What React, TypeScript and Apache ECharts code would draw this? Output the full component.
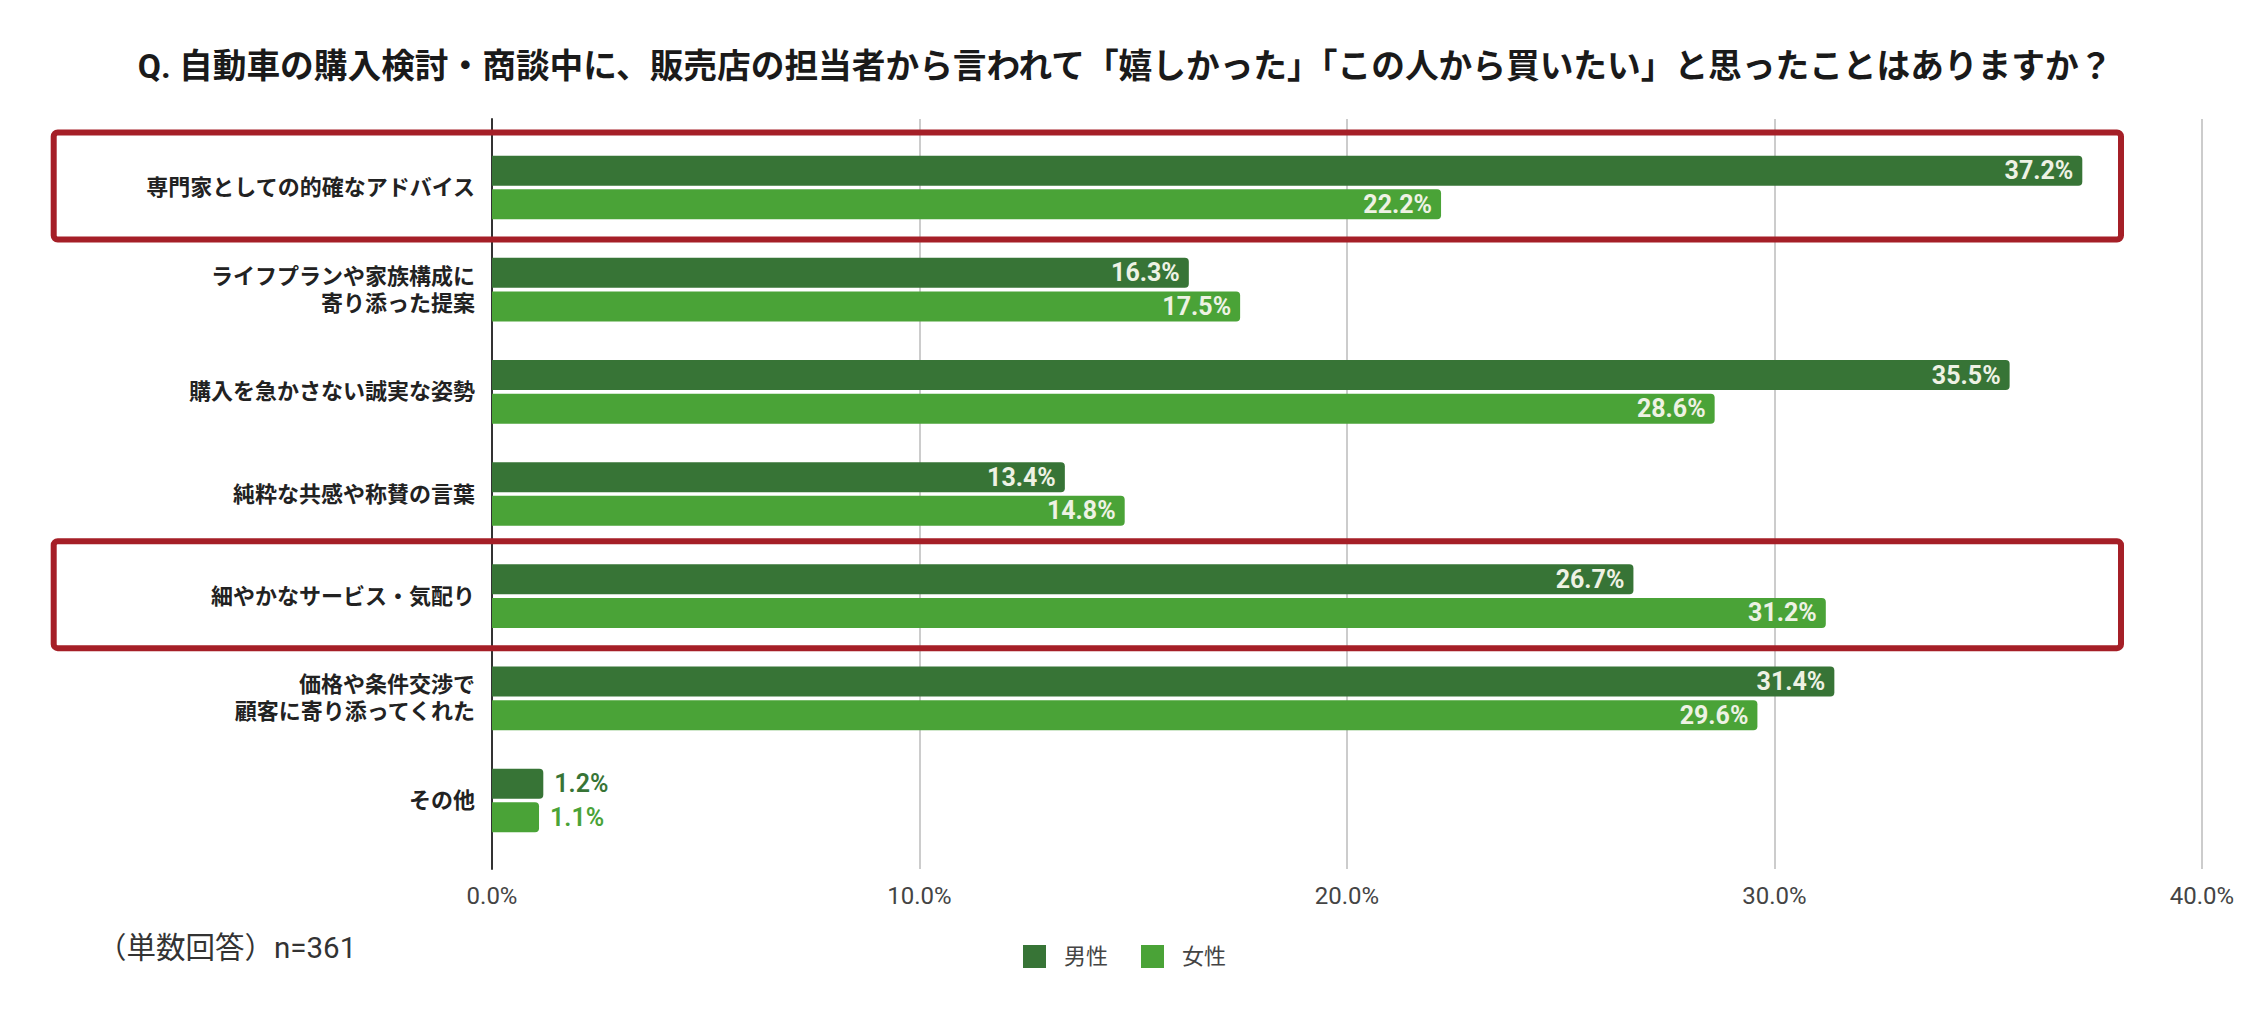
import React, { useEffect, useRef } from "react";
import * as echarts from "echarts";

const categories = [
  "専門家としての的確なアドバイス",
  "ライフプランや家族構成に\n寄り添った提案",
  "購入を急かさない誠実な姿勢",
  "純粋な共感や称賛の言葉",
  "細やかなサービス・気配り",
  "価格や条件交渉で\n顧客に寄り添ってくれた",
  "その他",
];
const maleValues = [37.2, 16.3, 35.5, 13.4, 26.7, 31.4, 1.2];
const femaleValues = [22.2, 17.5, 28.6, 14.8, 31.2, 29.6, 1.1];
const seriesNames = ["男性", "女性"];
const highlighted = [0, 4];
const xTicks = { min: 0, max: 40, interval: 10 };

const TITLE =
  "Q. 自動車の購入検討・商談中に、販売店の担当者から言われて「嬉しかった」「この人から買いたい」と思ったことはありますか？";
const NOTE = "（単数回答）n=361";

const DARK = "#377436";
const LIGHT = "#4aa337";
const FONT = "Roboto, 'Noto Sans CJK JP', sans-serif";

function buildData(values: number[], color: string) {
  return values.map((v) =>
    v < 5
      ? {
          value: v,
          label: { position: "right", color, distance: 11, fontWeight: 600 },
        }
      : v
  );
}

export default function App() {
  const ref = useRef<HTMLDivElement>(null);
  useEffect(() => {
    document.body.style.margin = "0";
    if (!ref.current) return;
    const chart = echarts.init(ref.current, undefined, { renderer: "svg" });
    const barLabel = {
      show: true,
      position: "insideRight",
      distance: 9,
      color: "#eef2e4",
      fontSize: 25,
      fontWeight: "bold",
      fontFamily: FONT,
      formatter: (p: any) => Number(p.value).toFixed(1) + "%",
    };
    const option: any = {
      animation: false,
      backgroundColor: "#ffffff",
      title: [
        {
          text: TITLE,
          left: "center",
          top: 50,
          padding: 0,
          textStyle: {
            fontSize: 33.7,
            fontWeight: "bold",
            color: "#1a1a1a",
            fontFamily: FONT,
          },
        },
        {
          text: NOTE,
          left: 97,
          top: 933,
          padding: 0,
          textStyle: {
            fontSize: 29.5,
            fontWeight: "normal",
            color: "#333",
            fontFamily: FONT,
          },
        },
      ],
      legend: {
        data: seriesNames,
        left: 1023,
        top: 945,
        icon: "rect",
        itemWidth: 23,
        itemHeight: 23,
        itemGap: 33,
        padding: 0,
        textStyle: {
          fontSize: 22,
          color: "#444",
          fontFamily: FONT,
          padding: [0, 0, 0, 13],
        },
      },
      grid: [
        { left: 492, right: 48, top: 136.4, bottom: 161.4 },
        { left: 492, right: 48, top: 119, bottom: 144 },
      ],
      xAxis: [
        { gridIndex: 0, type: "value", ...xTicks, show: false },
        {
          gridIndex: 1,
          type: "value",
          ...xTicks,
          axisLine: { show: false },
          axisTick: { show: false },
          axisLabel: {
            show: true,
            fontSize: 24,
            color: "#444",
            fontFamily: FONT,
            margin: 15,
            formatter: (v: number) => v.toFixed(1) + "%",
          },
          splitLine: { show: true, lineStyle: { color: "#cccccc", width: 2 } },
        },
      ],
      yAxis: [
        {
          gridIndex: 0,
          type: "category",
          inverse: true,
          data: categories,
          axisLine: { show: false },
          axisTick: { show: false },
          axisLabel: {
            fontSize: 22,
            fontWeight: "bold",
            color: "#222",
            fontFamily: FONT,
            margin: 17,
            lineHeight: 27,
          },
        },
        {
          gridIndex: 1,
          type: "value",
          axisLine: { show: true, lineStyle: { color: "#333", width: 2 } },
          axisLabel: { show: false },
          axisTick: { show: false },
          splitLine: { show: false },
        },
      ],
      series: [
        {
          name: seriesNames[0],
          type: "bar",
          xAxisIndex: 0,
          yAxisIndex: 0,
          data: buildData(maleValues, DARK),
          barWidth: 30,
          barGap: "12%",
          itemStyle: { color: DARK, borderRadius: [0, 4, 4, 0] },
          label: barLabel,
        },
        {
          name: seriesNames[1],
          type: "bar",
          xAxisIndex: 0,
          yAxisIndex: 0,
          data: buildData(femaleValues, LIGHT),
          barWidth: 30,
          barGap: "12%",
          itemStyle: { color: LIGHT, borderRadius: [0, 4, 4, 0] },
          label: barLabel,
        },
      ],
    };
    chart.setOption(option);

    const boxes = highlighted.map((i) => {
      const cy = chart.convertToPixel({ yAxisIndex: 0 }, i) as number;
      return {
        type: "rect",
        shape: { x: 53.7, y: cy - 55, width: 2121 - 53.7, height: 107, r: 4 },
        style: { fill: "none", stroke: "#a51f27", lineWidth: 6 },
        z: 100,
        silent: true,
      };
    });
    chart.setOption({ graphic: boxes });

    return () => chart.dispose();
  }, []);
  return <div ref={ref} style={{ width: 2250, height: 1013 }} />;
}
